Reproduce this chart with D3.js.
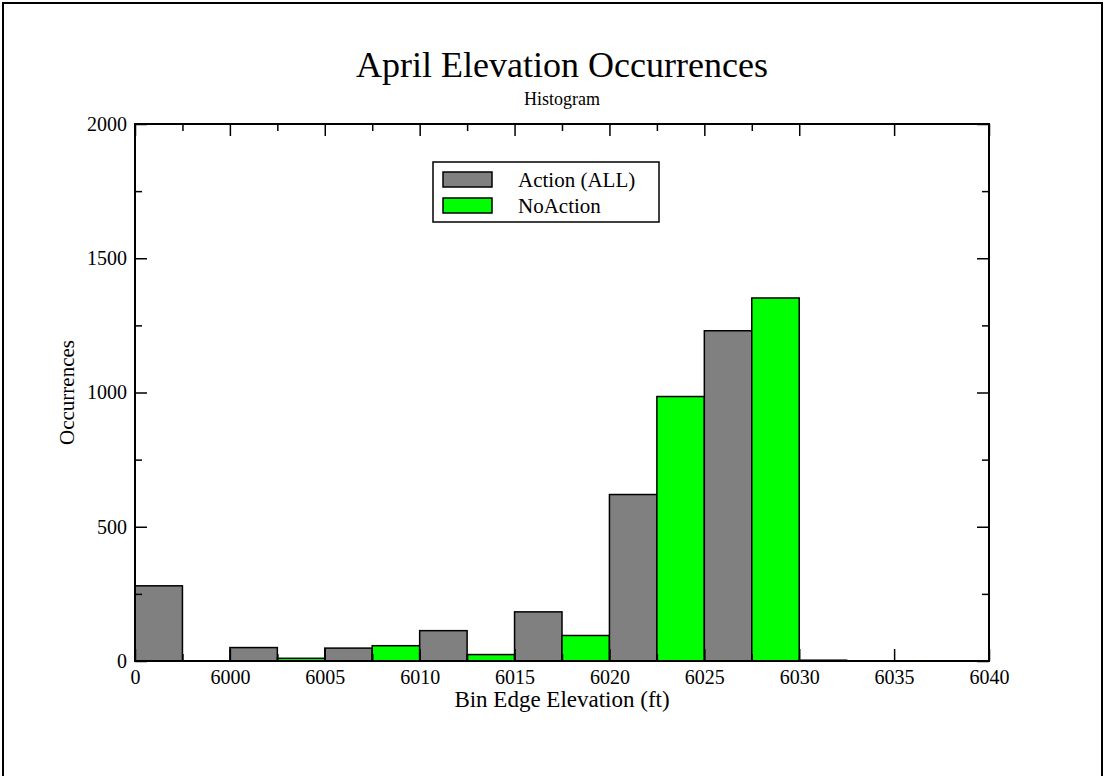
<!DOCTYPE html>
<html>
<head>
<meta charset="utf-8">
<script src="https://cdn.jsdelivr.net/npm/d3@7"></script>
<style>
  body { margin: 0; background: #fff; }
  svg text { font-family: "Liberation Serif", "DejaVu Serif", serif; fill: #000; }
</style>
</head>
<body>
<div id="chart"></div>
<script>
// histogram bins (left edge of each 5 ft bin)
const binEdges = [5995, 6000, 6005, 6010, 6015, 6020, 6025, 6030];
const actionAll = [280, 50, 48, 113, 183, 620, 1230, 3];
const noAction = [0, 10, 57, 24, 95, 985, 1352, 0];

const seriesNames = ['Action (ALL)', 'NoAction'];
const seriesColors = ['#808080', '#00ff00'];

const xTickValues = [5995, 6000, 6005, 6010, 6015, 6020, 6025, 6030, 6035, 6040];
const xTickLabels = ['0', '6000', '6005', '6010', '6015', '6020', '6025', '6030', '6035', '6040'];
const xMinorTicks = [5997.5, 6002.5, 6007.5, 6012.5, 6017.5, 6022.5, 6027.5];
const yTickValues = [0, 500, 1000, 1500, 2000];
const yMinorTicks = [250, 750, 1250, 1750];

const width = 1106;
const height = 776;
const margin = { top: 124, right: 117, bottom: 115, left: 135 };
const innerW = width - margin.left - margin.right;
const innerH = height - margin.top - margin.bottom;

const svg = d3.select('#chart')
  .append('svg')
  .attr('width', width)
  .attr('height', height);

// outer page frame
svg.append('rect')
  .attr('x', 3).attr('y', 3)
  .attr('width', 1099).attr('height', 800)
  .attr('fill', 'none')
  .attr('stroke', '#000')
  .attr('stroke-width', 2);

const g = svg.append('g').attr('transform', `translate(${margin.left},${margin.top})`);

const x = d3.scaleLinear().domain([5995, 6040]).range([0, innerW]);
const y = d3.scaleLinear().domain([0, 2000]).range([innerH, 0]);

const half = 2.5;
const bars = [];
binEdges.forEach((b, i) => {
  bars.push({ x0: b, x1: b + half, v: actionAll[i], s: 0 });
  bars.push({ x0: b + half, x1: b + 2 * half, v: noAction[i], s: 1 });
});

g.selectAll('rect.bar')
  .data(bars)
  .join('rect')
  .attr('class', 'bar')
  .attr('x', (d) => x(d.x0))
  .attr('y', (d) => y(d.v))
  .attr('width', (d) => x(d.x1) - x(d.x0))
  .attr('height', (d) => innerH - y(d.v))
  .attr('fill', (d) => seriesColors[d.s])
  .attr('stroke', '#000')
  .attr('stroke-width', 1.5);

// axes, ticks pointing inward
const tickStyle = (sel) => {
  sel.select('.domain').remove();
  sel.selectAll('.tick line').attr('stroke', '#000').attr('stroke-width', 1.5);
};

g.append('g')
  .attr('transform', `translate(0,${innerH})`)
  .call(d3.axisBottom(x).tickValues(xTickValues).tickSize(-12).tickPadding(9)
    .tickFormat((d, i) => xTickLabels[i]))
  .call(tickStyle)
  .call((s) => s.selectAll('text').attr('font-size', 20));

g.append('g')
  .attr('transform', `translate(0,${innerH})`)
  .call(d3.axisBottom(x).tickValues(xMinorTicks).tickSize(-7).tickFormat(''))
  .call(tickStyle);

g.append('g')
  .call(d3.axisTop(x).tickValues(xTickValues).tickSize(-12).tickFormat(''))
  .call(tickStyle);

g.append('g')
  .call(d3.axisTop(x).tickValues(xMinorTicks).tickSize(-7).tickFormat(''))
  .call(tickStyle);

g.append('g')
  .call(d3.axisLeft(y).tickValues(yTickValues).tickSize(-12).tickPadding(8)
    .tickFormat(d3.format('d')))
  .call(tickStyle)
  .call((s) => s.selectAll('text').attr('font-size', 20));

g.append('g')
  .call(d3.axisLeft(y).tickValues(yMinorTicks).tickSize(-7).tickFormat(''))
  .call(tickStyle);

g.append('g')
  .attr('transform', `translate(${innerW},0)`)
  .call(d3.axisRight(y).tickValues(yTickValues).tickSize(-12).tickFormat(''))
  .call(tickStyle);

g.append('g')
  .attr('transform', `translate(${innerW},0)`)
  .call(d3.axisRight(y).tickValues(yMinorTicks).tickSize(-7).tickFormat(''))
  .call(tickStyle);

// plot frame
g.append('rect')
  .attr('width', innerW)
  .attr('height', innerH)
  .attr('fill', 'none')
  .attr('stroke', '#000')
  .attr('stroke-width', 2);

// titles
svg.append('text')
  .attr('x', margin.left + innerW / 2).attr('y', 77)
  .attr('text-anchor', 'middle')
  .attr('font-size', 36)
  .text('April Elevation Occurrences');

svg.append('text')
  .attr('x', margin.left + innerW / 2).attr('y', 105)
  .attr('text-anchor', 'middle')
  .attr('font-size', 18)
  .text('Histogram');

svg.append('text')
  .attr('x', margin.left + innerW / 2).attr('y', 707)
  .attr('text-anchor', 'middle')
  .attr('font-size', 23)
  .text('Bin Edge Elevation (ft)');

svg.append('text')
  .attr('transform', `translate(74,${margin.top + innerH / 2}) rotate(-90)`)
  .attr('text-anchor', 'middle')
  .attr('font-size', 21)
  .text('Occurrences');

// legend
const legend = svg.append('g').attr('transform', 'translate(433,162)');
legend.append('rect')
  .attr('width', 226).attr('height', 60)
  .attr('fill', '#fff')
  .attr('stroke', '#000')
  .attr('stroke-width', 1.5);

seriesNames.forEach((name, i) => {
  legend.append('rect')
    .attr('x', 10).attr('y', 10 + i * 26)
    .attr('width', 49).attr('height', 15)
    .attr('fill', seriesColors[i])
    .attr('stroke', '#000')
    .attr('stroke-width', 1.5);
  legend.append('text')
    .attr('x', 85).attr('y', 25 + i * 26)
    .attr('font-size', 21)
    .text(name);
});
</script>
</body>
</html>
